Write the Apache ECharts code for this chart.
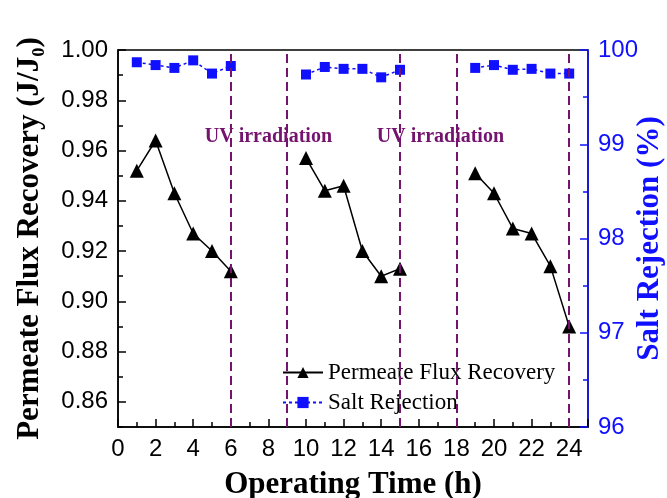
<!DOCTYPE html>
<html>
<head>
<meta charset="utf-8">
<script src="https://cdn.jsdelivr.net/npm/echarts@6/dist/echarts.min.js"></script>
<style>html,body{margin:0;padding:0;background:#fff;}#c{width:667px;height:498px;}</style>
</head>
<body>
<div id="c"></div>
<script>
// ---- data ----
const hours = [1,2,3,4,5,6,7,8,9,10,11,12,13,14,15,16,17,18,19,20,21,22,23,24];
const fluxRecovery = [0.952,0.964,0.943,0.927,0.920,0.912,null,null,null,0.957,0.944,0.946,0.920,0.910,0.913,null,null,null,0.951,0.943,0.929,0.927,0.914,0.890];
const saltRejection = [99.87,99.84,99.81,99.89,99.75,99.83,null,null,null,99.74,99.82,99.80,99.80,99.71,99.79,null,null,null,99.81,99.84,99.79,99.80,99.75,99.75];
const uvLines = [6, 9, 15, 18, 24];
const uvLabelX = [8.0, 17.15];
const uvLabelY = [0.9655, 0.9655];
const uvLabelText = 'UV irradiation';
const leftMajorTicks = [0.86,0.88,0.90,0.92,0.94,0.96,0.98,1.00];
const leftMinorTicks = [0.85,0.87,0.89,0.91,0.93,0.95,0.97,0.99];
const seriesNames = ['Permeate Flux Recovery', 'Salt Rejection'];

const purple = '#74146f';
const blue = '#1010ff';
const serif = 'Liberation Serif';
const sans = 'Liberation Sans';

const chart = echarts.init(document.getElementById('c'), null, {renderer: 'canvas'});
const pair = arr => hours.map((h, i) => [h, arr[i] == null ? '-' : arr[i]]);

chart.setOption({
  animation: false,
  backgroundColor: '#fff',
  grid: {left: 118, right: 79, top: 50, bottom: 71, show: true, borderColor: '#000', borderWidth: 1.5, backgroundColor: 'transparent', outerBoundsMode: 'none', containLabel: false},
  legend: {
    orient: 'vertical', left: 277, top: 356, itemWidth: 40, itemHeight: 14, itemGap: 7,
    textStyle: {fontFamily: serif, fontSize: 23, color: '#000'},
    data: seriesNames
  },
  xAxis: [{
    type: 'value', min: 0, max: 25, interval: 2, position: 'bottom',
    name: 'Operating Time (h)', nameLocation: 'middle', nameGap: 42, nameMoveOverlap: false,
    nameTextStyle: {fontFamily: serif, fontWeight: 'bold', fontSize: 31, color: '#000'},
    axisLine: {show: true, lineStyle: {color: '#000', width: 1.5}},
    axisTick: {show: true, inside: true, length: 8, lineStyle: {color: '#000', width: 1.5}},
    minorTick: {show: true, splitNumber: 2, length: 5, lineStyle: {color: '#000', width: 1.5}},
    axisLabel: {fontFamily: sans, fontSize: 24, color: '#000', margin: 10, showMaxLabel: false},
    splitLine: {show: false}
  }],
  yAxis: [{
    type: 'value', min: 0.85, max: 1.0, position: 'left',
    name: 'Permeate Flux Recovery (J/J\u2080)', nameLocation: 'middle', nameGap: 73, nameRotate: 90, nameMoveOverlap: false,
    nameTextStyle: {fontFamily: serif, fontWeight: 'bold', fontSize: 31, color: '#000'},
    axisLine: {show: true, lineStyle: {color: '#000', width: 1.5}},
    axisTick: {show: true, inside: true, length: 8, customValues: leftMajorTicks, lineStyle: {color: '#000', width: 1.5}},
    axisLabel: {fontFamily: sans, fontSize: 24, color: '#000', margin: 10, customValues: leftMajorTicks, formatter: v => v.toFixed(2)},
    splitLine: {show: false}
  }, {
    type: 'value', min: 96, max: 100, interval: 1, position: 'right',
    name: 'Salt Rejection (%)', nameLocation: 'middle', nameGap: 46, nameRotate: 90, nameMoveOverlap: false,
    nameTextStyle: {fontFamily: serif, fontWeight: 'bold', fontSize: 31, color: blue},
    axisLine: {show: true, lineStyle: {color: blue, width: 1.5}},
    axisTick: {show: true, inside: true, length: 8, lineStyle: {color: blue, width: 1.5}},
    minorTick: {show: true, splitNumber: 2, length: 5, lineStyle: {color: blue, width: 1.5}},
    axisLabel: {fontFamily: sans, fontSize: 24, color: blue, margin: 10},
    splitLine: {show: false}
  }, {
    type: 'value', min: 0.85, max: 1.0, position: 'left',
    axisLine: {show: false},
    axisTick: {show: true, inside: true, length: 5, customValues: leftMinorTicks, lineStyle: {color: '#000', width: 1.5}},
    axisLabel: {show: false},
    splitLine: {show: false}
  }],
  series: [{
    name: seriesNames[0], type: 'line', yAxisIndex: 0, data: pair(fluxRecovery),
    connectNulls: false, symbol: 'triangle', symbolSize: 14,
    itemStyle: {color: '#000'}, lineStyle: {color: '#000', width: 1.5},
    markLine: {
      silent: true, symbol: 'none', label: {show: false},
      lineStyle: {color: purple, type: [9, 5], width: 2},
      data: uvLines.map(v => ({xAxis: v}))
    },
    z: 3
  }, {
    name: seriesNames[1], type: 'line', yAxisIndex: 1, data: pair(saltRejection),
    connectNulls: false, symbol: 'rect', symbolSize: 10,
    itemStyle: {color: blue}, lineStyle: {color: blue, width: 1.5, type: [3, 3]},
    z: 3
  }, {
    type: 'scatter', yAxisIndex: 0, symbolSize: 0, silent: true,
    itemStyle: {opacity: 1},
    data: uvLabelX.map((x, i) => [x, uvLabelY[i]]),
    label: {show: true, position: 'inside', formatter: uvLabelText, fontFamily: serif, fontWeight: 'bold', fontSize: 20, color: purple, opacity: 1},
    z: 4
  }]
});
</script>
</body>
</html>
